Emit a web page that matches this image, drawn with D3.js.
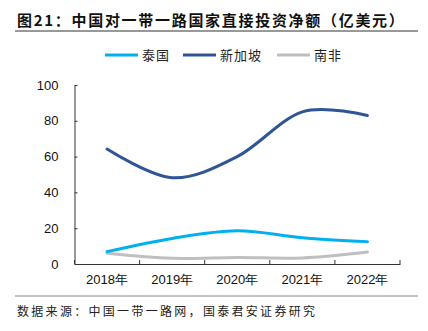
<!DOCTYPE html>
<html>
<head>
<meta charset="utf-8">
<script src="https://cdn.jsdelivr.net/npm/d3@7"></script>
<style>
  body { margin: 0; background: #fff; }
  svg { display: block; }
</style>
</head>
<body>
<svg></svg>
<script>
const years = ["2018年", "2019年", "2020年", "2021年", "2022年"];
const seriesNames = ["泰国", "新加坡", "南非"];
const thailand = [6.9, 14.3, 18.6, 14.7, 12.5];
const singapore = [64.2, 48.2, 60.0, 85.0, 83.0];
const southAfrica = [6.0, 3.2, 3.7, 3.4, 6.7];
const yTicks = [0, 20, 40, 60, 80, 100];

const colors = ["#00B0F0", "#2F5597", "#BFBFBF"];
const series = [thailand, singapore, southAfrica];

const width = 428, height = 331;
const plotLeft = 74.5, plotRight = 400, plotTop = 85, plotBottom = 264;
const cjk = "'Noto Sans CJK SC', sans-serif";

let svg = d3.select("svg")
  .attr("width", width)
  .attr("height", height);

// title and rules
svg.append("text")
  .attr("x", 17)
  .attr("y", 26)
  .style("font-family", cjk)
  .style("font-size", "15px")
  .style("font-weight", "bold")
  .style("letter-spacing", "1.7px")
  .attr("fill", "#111")
  .text("图21：中国对一带一路国家直接投资净额（亿美元）");

svg.append("line")
  .attr("x1", 15).attr("x2", 418)
  .attr("y1", 31).attr("y2", 31)
  .attr("stroke", "#333").attr("stroke-width", 1);

svg.append("line")
  .attr("x1", 15).attr("x2", 418)
  .attr("y1", 296).attr("y2", 296)
  .attr("stroke", "#888").attr("stroke-width", 1);

svg.append("text")
  .attr("x", 17)
  .attr("y", 316)
  .style("font-family", cjk)
  .style("font-size", "12px")
  .style("letter-spacing", "2.3px")
  .attr("fill", "#222")
  .text("数据来源：中国一带一路网，国泰君安证券研究");

// scales
let xScale = d3.scaleBand()
  .domain(years)
  .range([plotLeft, plotRight]);

let yScale = d3.scaleLinear()
  .domain([0, 100])
  .range([plotBottom, plotTop]);

// axes
let yAxis = d3.axisLeft(yScale)
  .tickValues(yTicks)
  .tickSize(-3)
  .tickSizeOuter(0)
  .tickPadding(16);

let gy = svg.append("g")
  .attr("transform", `translate(${plotLeft}, 0)`)
  .call(yAxis);
gy.select(".domain").attr("stroke", "#333");
gy.selectAll(".tick line").attr("stroke", "#333");
gy.selectAll("text")
  .style("font-family", "'Liberation Sans', Arial, sans-serif")
  .style("font-size", "13px")
  .attr("fill", "#111");

let xAxis = d3.axisBottom(xScale)
  .tickSize(0)
  .tickSizeOuter(0)
  .tickPadding(11);

let gx = svg.append("g")
  .attr("transform", `translate(0, ${plotBottom})`)
  .call(xAxis);
gx.select(".domain").attr("stroke", "#333");
gx.selectAll("text")
  .style("font-family", "'Liberation Sans', Arial, sans-serif")
  .style("font-size", "13px")
  .attr("fill", "#111");

// inner tick marks on band boundaries
let edges = years.map(d => xScale(d)).concat([xScale.range()[1]]);
svg.append("g")
  .selectAll("line")
  .data(edges)
  .enter()
  .append("line")
    .attr("x1", d => d).attr("x2", d => d)
    .attr("y1", plotBottom).attr("y2", plotBottom - 4)
    .attr("stroke", "#333");

// lines
let line = d3.line()
  .x((d, i) => xScale(years[i]) + xScale.bandwidth() / 2)
  .y(d => yScale(d))
  .curve(d3.curveCardinal.tension(0));

// draw grey first, then light blue, then dark blue on top
[2, 0, 1].forEach(k => {
  svg.append("path")
    .datum(series[k])
    .attr("d", line)
    .attr("fill", "none")
    .attr("stroke", colors[k])
    .attr("stroke-width", 3)
    .attr("stroke-linecap", "round");
});

// legend
let legendX = [105, 183, 277];
let legend = svg.append("g");
seriesNames.forEach((name, k) => {
  legend.append("line")
    .attr("x1", legendX[k]).attr("x2", legendX[k] + 33)
    .attr("y1", 55).attr("y2", 55)
    .attr("stroke", colors[k])
    .attr("stroke-width", 3);
  legend.append("text")
    .attr("x", legendX[k] + 37)
    .attr("y", 59.5)
    .style("font-family", cjk)
    .style("font-size", "13px")
    .style("letter-spacing", "1px")
    .attr("fill", "#222")
    .text(name);
});
</script>
</body>
</html>
